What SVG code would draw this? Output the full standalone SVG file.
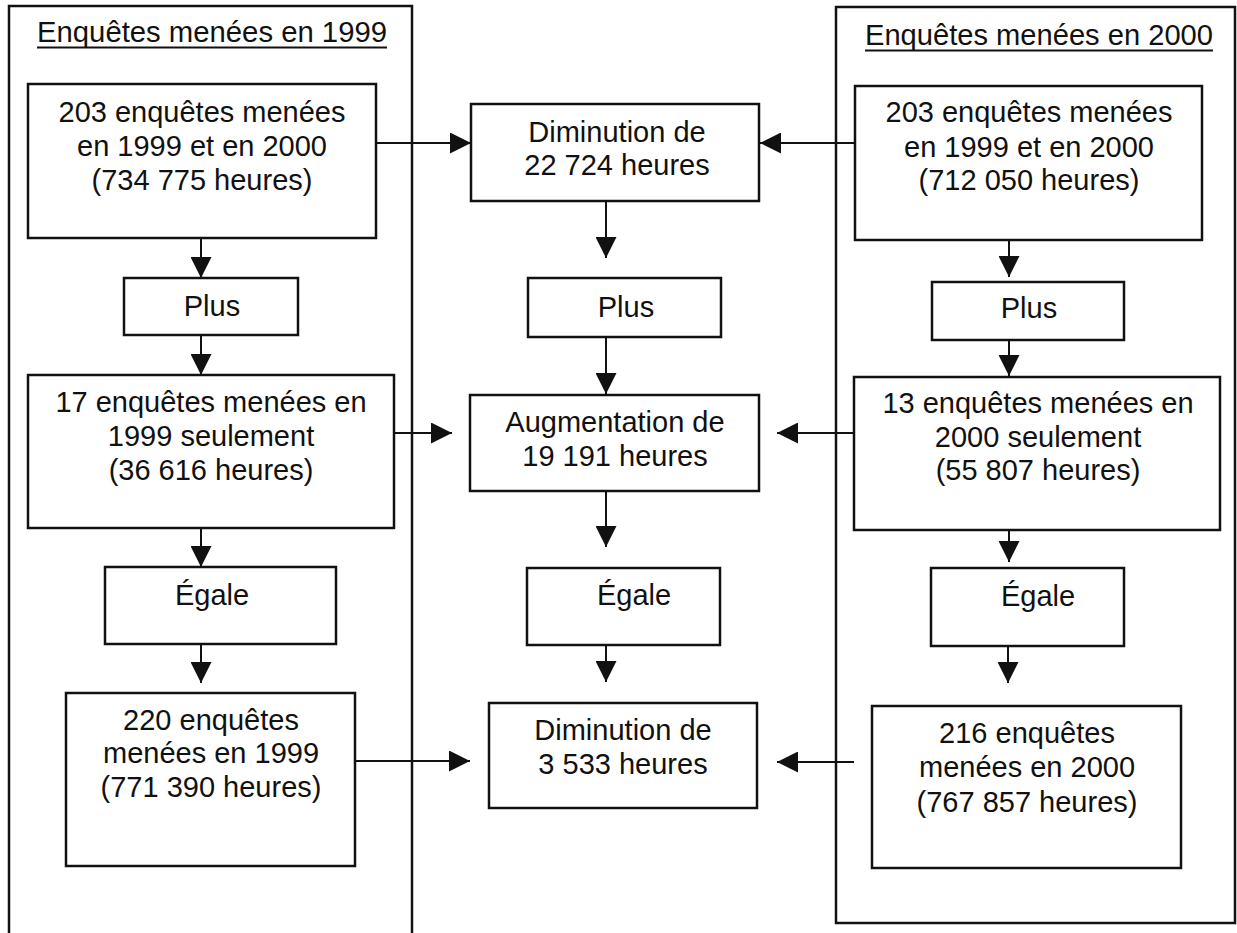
<svg xmlns="http://www.w3.org/2000/svg" width="1237" height="933" viewBox="0 0 1237 933">
<style>
.box{fill:#fff;stroke:#111;stroke-width:2.5}
.frame{fill:none;stroke:#111;stroke-width:2.5}
.t{font-family:"Liberation Sans",Arial,sans-serif;font-size:29px;fill:#111;text-anchor:middle}
.c{stroke:#111;stroke-width:2;fill:none;marker-end:url(#ah)}
.ul{stroke:#111;stroke-width:2}
</style>
<defs>
<marker id="ah" markerUnits="userSpaceOnUse" markerWidth="21" markerHeight="21" refX="21" refY="10.5" orient="auto" viewBox="0 0 21 21">
<path d="M0,0 L21,10.5 L0,21 Z" fill="#111"/>
</marker>
</defs>
<rect width="1237" height="933" fill="#fff"/>

<g id="col1999">
<rect class="frame" x="9" y="6" width="403" height="940"/>
<text class="t" x="212" y="42" textLength="350" lengthAdjust="spacingAndGlyphs">Enquêtes menées en 1999</text>
<line class="ul" x1="37" y1="47.5" x2="387" y2="47.5"/>
</g>
<g id="col2000">
<rect class="frame" x="836" y="7" width="399" height="916"/>
<text class="t" x="1039" y="45" textLength="348" lengthAdjust="spacingAndGlyphs">Enquêtes menées en 2000</text>
<line class="ul" x1="865" y1="50.5" x2="1213" y2="50.5"/>
</g>

<g id="connectors">
<line class="c" x1="201" y1="238" x2="201" y2="278"/>
<line class="c" x1="201" y1="335" x2="201" y2="375"/>
<line class="c" x1="201" y1="528" x2="201" y2="567"/>
<line class="c" x1="201" y1="644" x2="201" y2="683"/>
<line class="c" x1="376" y1="143" x2="471" y2="143"/>
<line class="c" x1="394" y1="433" x2="452" y2="433"/>
<line class="c" x1="355" y1="761" x2="470" y2="761"/>
<line class="c" x1="606" y1="201" x2="606" y2="258"/>
<line class="c" x1="606" y1="337" x2="606" y2="394"/>
<line class="c" x1="606" y1="491" x2="606" y2="547"/>
<line class="c" x1="606" y1="645" x2="606" y2="682"/>
<line class="c" x1="855" y1="143" x2="760" y2="143"/>
<line class="c" x1="854" y1="433" x2="777" y2="433"/>
<line class="c" x1="854" y1="762" x2="777" y2="762"/>
<line class="c" x1="1009" y1="240" x2="1009" y2="277"/>
<line class="c" x1="1009" y1="340" x2="1009" y2="376"/>
<line class="c" x1="1009" y1="525" x2="1009" y2="562"/>
<line class="c" x1="1008" y1="646" x2="1008" y2="683"/>
</g>

<g id="a1">
<rect class="box" x="28" y="84" width="348" height="154"/>
<text class="t" x="202" y="122">203 enquêtes menées</text>
<text class="t" x="202" y="156">en 1999 et en 2000</text>
<text class="t" x="202" y="190">(734 775 heures)</text>
</g>
<g id="lplus">
<rect class="box" x="124" y="278" width="174" height="57"/>
<text class="t" x="212" y="316">Plus</text>
</g>
<g id="a2">
<rect class="box" x="28" y="375" width="366" height="153"/>
<text class="t" x="211" y="412">17 enquêtes menées en</text>
<text class="t" x="211" y="446">1999 seulement</text>
<text class="t" x="211" y="480">(36 616 heures)</text>
</g>
<g id="legale">
<rect class="box" x="105" y="567" width="231" height="77"/>
<text class="t" x="212" y="605">Égale</text>
</g>
<g id="a3">
<rect class="box" x="66" y="693" width="289" height="173"/>
<text class="t" x="211" y="730">220 enquêtes</text>
<text class="t" x="211" y="763">menées en 1999</text>
<text class="t" x="211" y="797">(771 390 heures)</text>
</g>

<g id="m1">
<rect class="box" x="471" y="104" width="288" height="97"/>
<text class="t" x="617" y="142">Diminution de</text>
<text class="t" x="617" y="175">22 724 heures</text>
</g>
<g id="mplus">
<rect class="box" x="528" y="278" width="193" height="59"/>
<text class="t" x="626" y="317">Plus</text>
</g>
<g id="m2">
<rect class="box" x="470" y="395" width="289" height="96"/>
<text class="t" x="615" y="432">Augmentation de</text>
<text class="t" x="615" y="466">19 191 heures</text>
</g>
<g id="megale">
<rect class="box" x="527" y="568" width="193" height="77"/>
<text class="t" x="634" y="605">Égale</text>
</g>
<g id="m3">
<rect class="box" x="489" y="703" width="268" height="105"/>
<text class="t" x="623" y="740">Diminution de</text>
<text class="t" x="623" y="774">3 533 heures</text>
</g>

<g id="r1">
<rect class="box" x="855" y="86" width="347" height="154"/>
<text class="t" x="1029" y="122">203 enquêtes menées</text>
<text class="t" x="1029" y="157">en 1999 et en 2000</text>
<text class="t" x="1029" y="190">(712 050 heures)</text>
</g>
<g id="rplus">
<rect class="box" x="932" y="282" width="192" height="58"/>
<text class="t" x="1029" y="318">Plus</text>
</g>
<g id="r2">
<rect class="box" x="854" y="377" width="366" height="153"/>
<text class="t" x="1038" y="413">13 enquêtes menées en</text>
<text class="t" x="1038" y="447">2000 seulement</text>
<text class="t" x="1038" y="480">(55 807 heures)</text>
</g>
<g id="regale">
<rect class="box" x="931" y="568" width="193" height="78"/>
<text class="t" x="1038" y="606">Égale</text>
</g>
<g id="r3">
<rect class="box" x="872" y="706" width="309" height="162"/>
<text class="t" x="1027" y="743">216 enquêtes</text>
<text class="t" x="1027" y="777">menées en 2000</text>
<text class="t" x="1027" y="812">(767 857 heures)</text>
</g>
</svg>
